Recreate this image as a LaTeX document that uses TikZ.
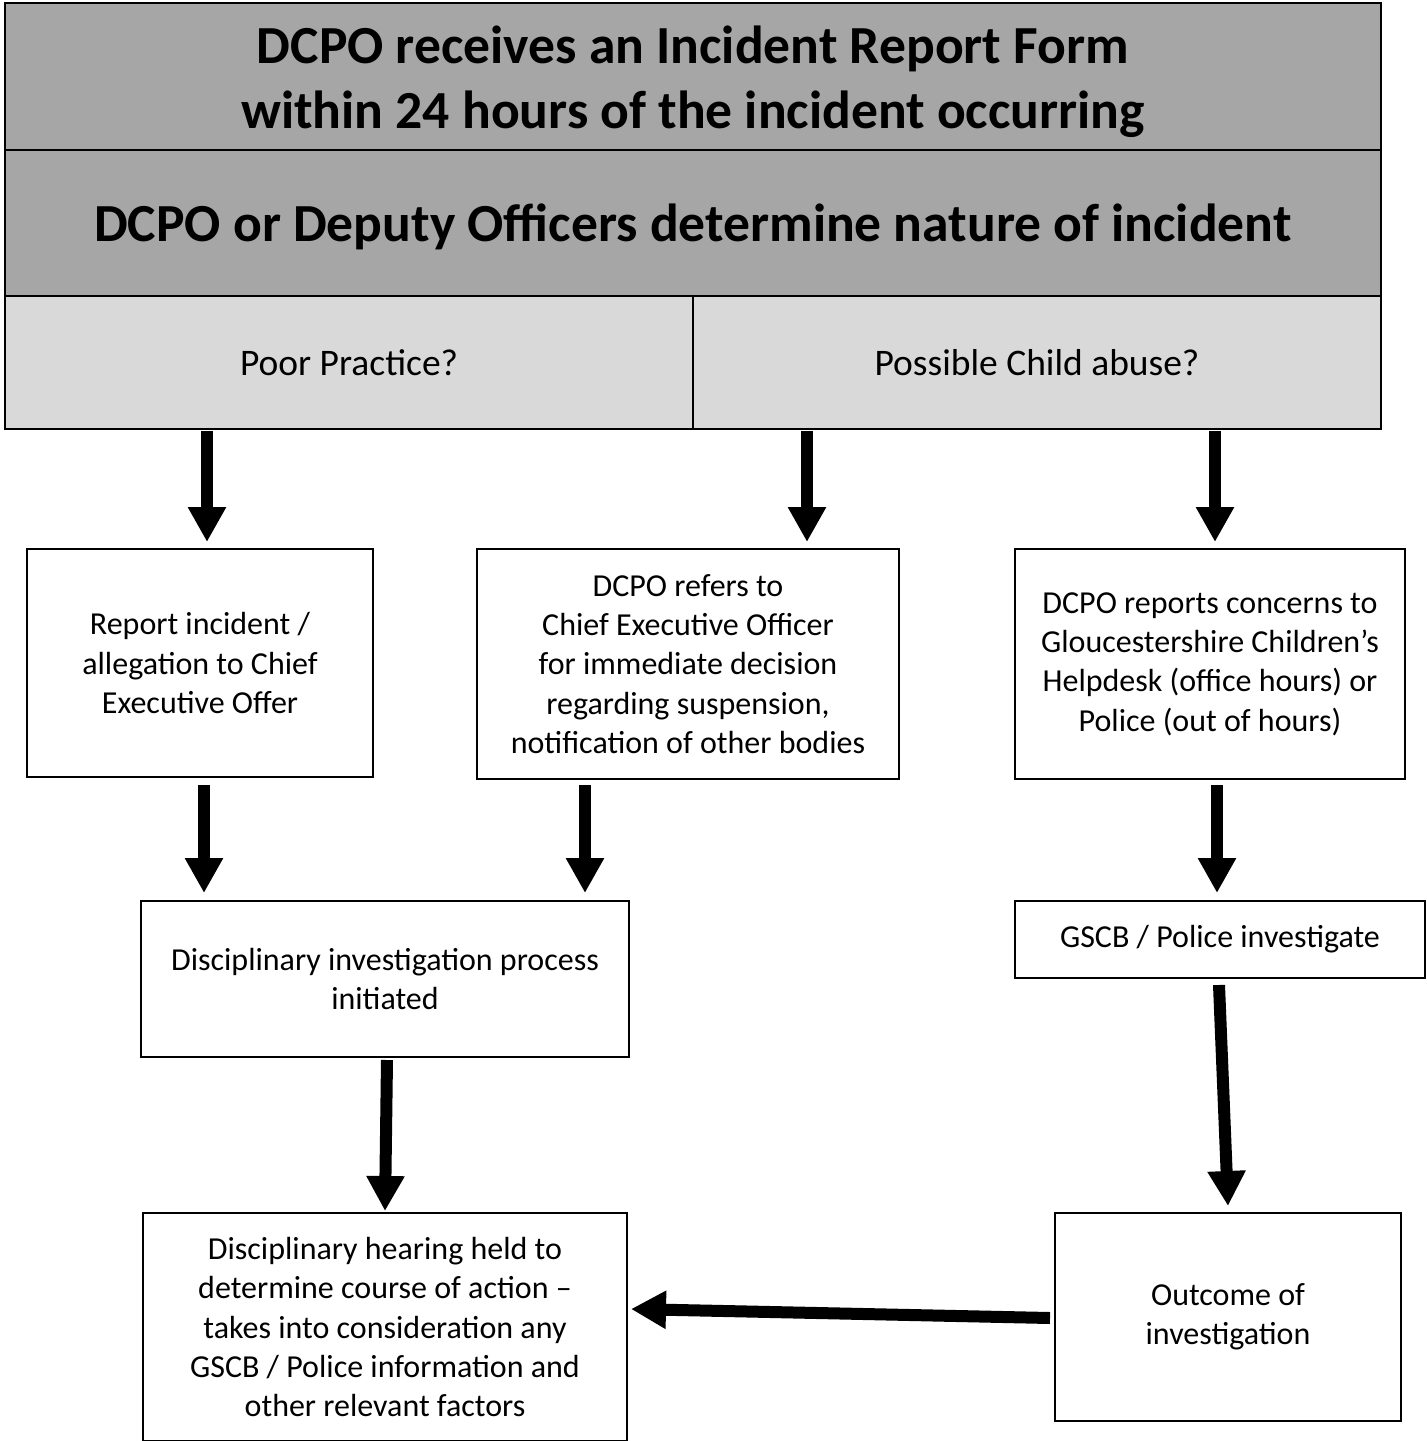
\documentclass[tikz,border=0pt]{standalone}
\usepackage{fontspec}
\setmainfont{Carlito}
\usetikzlibrary{arrows.meta,calc}
\definecolor{hdrgray}{HTML}{A6A6A6}
\definecolor{optgray}{HTML}{D9D9D9}
\begin{document}
\begin{tikzpicture}[x=1pt,y=-1pt,
  hdrbox/.style={draw, line width=2.5pt, fill=hdrgray, minimum width=1376pt, inner sep=0pt},
  hdrtext/.style={inner sep=0pt, align=center, font=\fontsize{53.6}{65}\selectfont\bfseries},
  optbox/.style={draw, line width=2.5pt, fill=optgray, minimum width=688pt, minimum height=133pt, inner sep=0pt, align=center, font=\fontsize{37.5}{45}\selectfont},
  stepbox/.style={draw, line width=2pt, fill=white, inner sep=0pt, align=center, font=\fontsize{32}{39.3}\selectfont},
  arr/.style={line width=12pt, -{Triangle[length=35pt,width=36pt]}}]
\useasboundingbox (0,0) rectangle (1427,1441);
\fill[white] (0,0) rectangle (1427,1441);
% header table
\node[hdrbox, minimum height=147pt] (r1) at (693,76.5) {};
\node[hdrtext] (r1t) at ($(r1.center)+(0,5)$) {DCPO receives an Incident Report Form\\within 24 hours of the incident occurring};
\node[hdrbox, minimum height=146pt] (r2) at (693,223) {};
\node[hdrtext] (r2t) at ($(r2.center)+(0,4)$) {DCPO or Deputy Officers determine nature of incident};
\node[optbox] (pp) at (349,362.5) {Poor Practice?};
\node[optbox] (pca) at (1037,362.5) {Possible Child abuse?};
% boxes
\node[stepbox, minimum width=346pt, minimum height=228pt] (A) at (200,663) {Report incident /\\allegation to Chief\\Executive Offer};
\node[stepbox, minimum width=422pt, minimum height=230pt] (B) at (688,664) {DCPO refers to\\Chief Executive Officer\\for immediate decision\\regarding suspension,\\notification of other bodies};
\node[stepbox, minimum width=390pt, minimum height=230pt] (C) at (1210,664) {DCPO reports concerns to\\Gloucestershire Children’s\\Helpdesk (office hours) or\\Police (out of hours)};
\node[stepbox, minimum width=488pt, minimum height=156pt] (D) at (385,979) {Disciplinary investigation process\\initiated};
\node[stepbox, minimum width=410pt, minimum height=77pt] (E) at (1220,939.5) {GSCB / Police investigate};
\node[stepbox, minimum width=484pt, minimum height=228pt] (F) at (385,1327) {Disciplinary hearing held to\\determine course of action –\\takes into consideration any\\GSCB / Police information and\\other relevant factors};
\node[stepbox, minimum width=346pt, minimum height=208pt] (G) at (1228,1317) {Outcome of\\investigation};
% arrows
\draw[arr] ($(A.north)+(7,-117)$) -- ($(A.north)+(7,-6)$);
\draw[arr] ($(B.north)+(119,-117)$) -- ($(B.north)+(119,-6)$);
\draw[arr] ($(C.north)+(5,-117)$) -- ($(C.north)+(5,-6)$);
\draw[arr] ($(A.south)+(4,7)$) -- ($(D.north)+(-181,-7)$);
\draw[arr] ($(B.south)+(-103,5)$) -- ($(D.north)+(200,-7)$);
\draw[arr] ($(C.south)+(7,5)$) -- ($(E.north)+(-3,-7)$);
\draw[arr] ($(D.south)+(2,2)$) -- ($(F.north)+(0,-1)$);
\draw[arr] ($(E.south)+(-1,6)$) -- ($(G.north)+(0,-6)$);
\draw[arr] ($(G.west)+(-4,1)$) -- ($(F.east)+(3,-18)$);
\end{tikzpicture}
\end{document}
